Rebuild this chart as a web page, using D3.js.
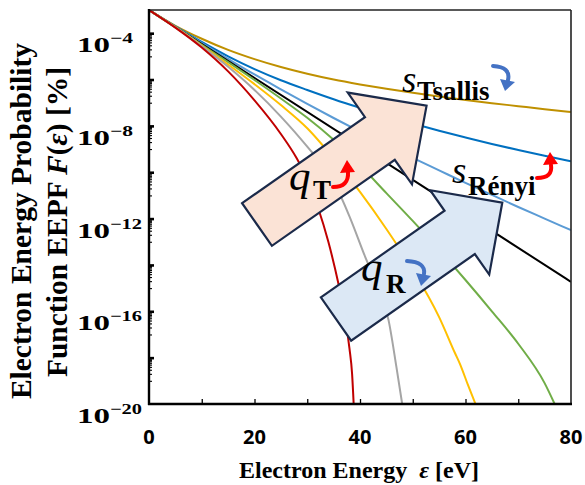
<!DOCTYPE html>
<html><head><meta charset="utf-8">
<script src="https://cdn.jsdelivr.net/npm/d3@7/dist/d3.min.js"></script>
<style>body{margin:0;background:#fff}svg{display:block}</style>
</head><body><svg id="c" width="585" height="485"></svg>
<script>
// ---------- data ----------
const xTickLabels = [0, 20, 40, 60, 80];
const xTickMarks = [10, 20, 30, 40, 50, 60, 70];
const yLabelExps = [-4, -8, -12, -16, -20];
const yMajorExps = [-4, -6, -8, -10, -12, -14, -16, -18];

// energies (eV) and log10 EEPF values per curve
const eGold = [0,5,10,15,20,25,30,35,40,45,50,55,60,65,70,75,80];
const vGold = [-3,-3.68,-4.24,-4.72,-5.12,-5.46,-5.75,-6.0,-6.21,-6.4,-6.57,-6.73,-6.88,-7.02,-7.15,-7.28,-7.4];
const eBlue = [0,5,10,15,20,25,30,35,40,45,50,55,60,65,70,75,80];
const vBlue = [-3,-3.71,-4.38,-5.0,-5.55,-6.03,-6.45,-6.85,-7.22,-7.57,-7.9,-8.21,-8.5,-8.78,-9.04,-9.29,-9.53];
const eLightBlue = [0,5,10,15,20,25,30,35,40,45,50,55,60,65,70,75,80];
const vLightBlue = [-3,-3.72,-4.43,-5.11,-5.78,-6.42,-7.05,-7.66,-8.25,-8.82,-9.38,-9.92,-10.46,-10.98,-11.5,-12.0,-12.5];
const eBlack = [0,40,80];
const vBlack = [-3,-8.86,-14.73];
const eGreen = [0,5,10,15,20,25,30,35,40,45,50,55,60,65,70,75,76.9];
const vGreen = [-3,-3.74,-4.5,-5.25,-6.02,-6.82,-7.65,-8.6,-9.7,-10.9,-12.1,-13.35,-14.65,-16.0,-17.4,-19.1,-20];
const eYellow = [0,5,10,15,20,25,30,35,40,45,50,55,58,59,60.5,61.9];
const vYellow = [-3,-3.74,-4.53,-5.35,-6.2,-7.1,-8.1,-9.4,-10.85,-12.45,-14.2,-16.25,-17.8,-18.3,-19.2,-20];
const eGray = [0,5,10,15,20,25,30,35,38,41,44,45.4,46.9,48];
const vGray = [-3,-3.75,-4.56,-5.45,-6.45,-7.6,-8.9,-10.4,-11.9,-13.66,-15.3,-16.37,-18.4,-20];
const eRed = [0,5,10,15,20,25,28,30,32,34,36,37,38,38.5,38.8];
const vRed = [-3,-3.76,-4.62,-5.65,-6.9,-8.35,-9.4,-10.3,-11.5,-13.0,-14.9,-16.0,-17.6,-18.7,-20];

const seriesE = [eGold, eBlue, eLightBlue, eBlack, eGreen, eYellow, eGray, eRed];
const seriesV = [vGold, vBlue, vLightBlue, vBlack, vGreen, vYellow, vGray, vRed];
const seriesColors = ["#BF9000","#0070C0","#5B9BD5","#000000","#70AD47","#FFC000","#A5A5A5","#C00000"];

// ---------- layout ----------
const svg = d3.select("#c");
const L = 149, R = 571, T = 10, B = 404;
const x = d3.scaleLinear().domain([0, 80]).range([L, R]);
const y = d3.scaleLog().domain([1e-20, 1e-3]).range([B, T]);
const serif = "'Liberation Serif','Times New Roman',serif";

svg.append("defs").append("clipPath").attr("id","clip")
  .append("rect").attr("x",L).attr("y",T).attr("width",R-L).attr("height",B-T);

// curves
const line = d3.line().x(d => x(d[0])).y(d => y(Math.pow(10, d[1]))).curve(d3.curveMonotoneX);
const gCurves = svg.append("g").attr("clip-path","url(#clip)");
seriesE.forEach((es, i) => {
  const pts = es.map((e, j) => [e, seriesV[i][j]]);
  gCurves.append("path").attr("d", line(pts)).attr("fill","none")
    .attr("stroke", seriesColors[i]).attr("stroke-width", 2);
});

// frame
svg.append("line").attr("x1",L).attr("x2",R).attr("y1",T).attr("y2",T).attr("stroke","#222").attr("stroke-width",1.6);
svg.append("line").attr("x1",R).attr("x2",R).attr("y1",T).attr("y2",B).attr("stroke","#222").attr("stroke-width",1.6);

// x axis
const xAxis = d3.axisBottom(x).tickValues(xTickMarks).tickSize(-5).tickFormat("");
const gx = svg.append("g").attr("transform",`translate(0,${B})`).call(xAxis);
gx.select(".domain").remove();
gx.selectAll(".tick line").attr("stroke","#000").attr("stroke-width",1.3);
svg.append("g").selectAll("text").data(xTickLabels).join("text")
  .attr("x", d => x(d)).attr("y", 444).attr("text-anchor","middle")
  .attr("font-family","'Open Sans',sans-serif").attr("font-weight","bold").attr("font-size",20)
  .text(d => d);

// y axis ticks (major every 2 decades, minor sub-decade ticks)
const minorVals = [];
yMajorExps.forEach(e => {
  for (let k = 2; k <= 9; k++) minorVals.push(k * Math.pow(10, e - 1));
  minorVals.push(Math.pow(10, e - 1));
});
const yMajor = d3.axisLeft(y).tickValues(yMajorExps.map(e => Math.pow(10, e))).tickSize(-5).tickFormat("");
const gyM = svg.append("g").attr("transform",`translate(${L},0)`).call(yMajor);
gyM.select(".domain").remove();
gyM.selectAll(".tick line").attr("stroke","#000").attr("stroke-width",2.6);
const yMinor = d3.axisLeft(y).tickValues(minorVals).tickSize(-3).tickFormat("");
const gym = svg.append("g").attr("transform",`translate(${L},0)`).call(yMinor);
gym.select(".domain").remove();
gym.selectAll(".tick line").attr("stroke","#000").attr("stroke-width",1.1);

// axis lines
svg.append("line").attr("x1",L).attr("x2",L).attr("y1",T-1).attr("y2",B+1).attr("stroke","#000").attr("stroke-width",2.4);
svg.append("line").attr("x1",L-1).attr("x2",R+1).attr("y1",B).attr("y2",B).attr("stroke","#000").attr("stroke-width",2.4);

// y tick labels
const gyl = svg.append("g");
yLabelExps.forEach(e => {
  const yy = y(Math.pow(10, e)) + 19;
  gyl.append("text").attr("x",77).attr("y",yy).attr("font-family",serif).attr("font-weight","bold")
    .attr("font-size",21).attr("textLength",33).attr("lengthAdjust","spacingAndGlyphs").text("10");
  const s = "\u2212" + Math.abs(e);
  gyl.append("text").attr("x",110).attr("y",yy-9).attr("font-family",serif).attr("font-weight","bold")
    .attr("font-size",15).attr("textLength", s.length === 2 ? 23 : 32).attr("lengthAdjust","spacingAndGlyphs").text(s);
});

// axis titles
const xt = svg.append("text").attr("x",359).attr("y",478).attr("text-anchor","middle")
  .attr("font-family",serif).attr("font-weight","bold").attr("font-size",24);
xt.append("tspan").text("Electron Energy\u00A0\u00A0");
xt.append("tspan").attr("font-style","italic").text("\u03B5");
xt.append("tspan").text(" [eV]");

svg.append("text").attr("transform","translate(31,221) rotate(-90)").attr("text-anchor","middle")
  .attr("font-family",serif).attr("font-weight","bold").attr("font-size",29.5).text("Electron Energy Probability");
const yt2 = svg.append("text").attr("transform","translate(67,222) rotate(-90)").attr("text-anchor","middle")
  .attr("font-family",serif).attr("font-weight","bold").attr("font-size",29.5);
yt2.append("tspan").text("Function EEPF ");
yt2.append("tspan").attr("font-style","italic").text("F");
yt2.append("tspan").text("(");
yt2.append("tspan").attr("font-style","italic").text("\u03B5");
yt2.append("tspan").text(") [%]");

// block arrows
function blockArrow(cx, cy, ang, len, shw, hhw, hl, fill) {
  const p = `M0,${-shw}L${len-hl},${-shw}L${len-hl},${-hhw}L${len},0L${len-hl},${hhw}L${len-hl},${shw}L0,${shw}Z`;
  svg.append("path").attr("d", p).attr("transform", `translate(${cx},${cy}) rotate(${-ang})`)
    .attr("fill", fill).attr("stroke", "#1B2A4A").attr("stroke-width", 2.2).attr("stroke-linejoin","miter");
}
blockArrow(257, 224.5, 35, 207, 26, 56, 57, "#FBE3D6");
blockArrow(336, 319, 35, 203, 26.4, 51.5, 52, "#DCE8F5");

// labels
function label(xq, yq, sym, sub, xs, ys, fsq, fss) {
  svg.append("text").attr("x",xq).attr("y",yq).attr("font-family",serif).attr("font-style","italic")
    .attr("font-size",fsq).text(sym);
  svg.append("text").attr("x",xs).attr("y",ys).attr("font-family",serif).attr("font-weight","bold")
    .attr("font-size",fss).text(sub);
}
label(289, 190, "q", "T", 313, 199, 43, 27);
label(361, 281, "q", "R", 386, 293, 43, 27);
label(402, 92, "s", "Tsallis", 417, 100, 37, 27);
label(452, 183, "s", "Rényi", 468, 195, 37, 27);

// curly arrows
function curly(d, head, color) {
  svg.append("path").attr("d", d).attr("fill","none").attr("stroke",color).attr("stroke-width",4).attr("stroke-linecap","round");
  svg.append("polygon").attr("points", head.map(p => p.join(",")).join(" ")).attr("fill",color);
}
curly("M333,187 Q349,187 348,172", [[347,160],[340,173],[355,172]], "#FF0000");
curly("M537,178 Q553,178 551,165", [[550,152],[543,165],[558,164]], "#FF0000");
curly("M493,66 Q511,67 508,80", [[505,91],[500,79],[515,82]], "#4472C4");
curly("M407,261 Q426,262 424,274", [[421,286],[416,273],[431,276]], "#4472C4");
</script></body></html>
